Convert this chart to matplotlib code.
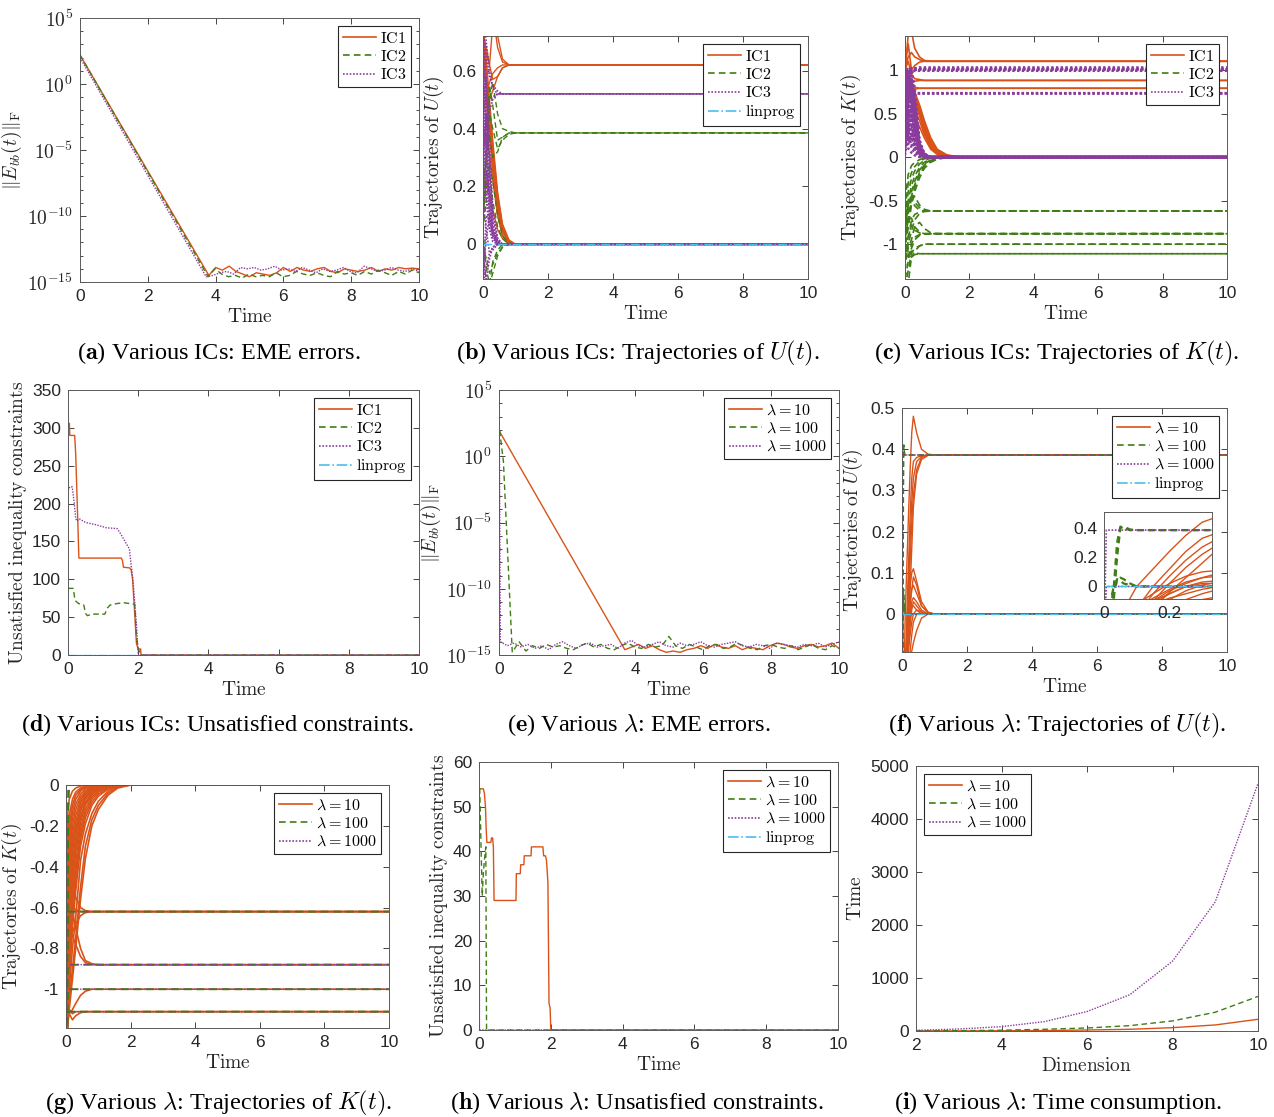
import numpy as np
import matplotlib
matplotlib.use("Agg")
import matplotlib.pyplot as plt
from matplotlib.lines import Line2D
from matplotlib.ticker import FixedLocator, FuncFormatter, NullFormatter

plt.rcParams["font.family"] = ["Liberation Sans", "DejaVu Sans"]
plt.rcParams["mathtext.fontset"] = "cm"
plt.rcParams["axes.unicode_minus"] = False

# =========================
# data
# =========================

# (a) EME error, log10 values: start value then noise floor
A_START_T = [0.0]
A_IC1_START = [2.2]
A_IC2_START = [2.2]
A_IC3_START = [2.0]
A_FLOOR_T0 = [3.8, 3.78, 3.72]
A_IC1_FLOOR = [-14.5, -13.9, -14.1, -13.8, -14.2, -14.4, -14.6, -14.3, -14.4, -14.5, -14.3,
               -13.9, -14.2, -13.9, -14.1, -14.2, -14.0, -13.9, -14.2, -14.3, -14.0, -14.1,
               -14.2, -14.1, -13.9, -14.2, -14.0, -14.1, -13.9, -14.0, -13.95, -14.0]
A_IC2_FLOOR = [-14.6, -14.0, -14.4, -14.6, -14.5, -14.7, -14.4, -14.6, -14.5, -14.6, -14.3,
               -14.6, -14.5, -14.2, -14.4, -14.5, -14.3, -14.5, -14.6, -14.2, -14.4, -14.3,
               -14.5, -14.2, -14.4, -14.1, -14.3, -14.5, -14.2, -14.4, -14.1, -14.3]
A_IC3_FLOOR = [-14.6, -14.5, -14.3, -14.2, -14.4, -13.9, -14.0, -13.9, -14.1, -14.0, -13.8,
               -14.1, -14.0, -14.2, -13.9, -14.1, -14.3, -14.0, -14.2, -14.1, -13.9, -14.2,
               -14.3, -13.8, -14.0, -14.2, -14.1, -13.9, -14.1, -14.2, -14.0, -14.2]

# (b) trajectories of U(t), various ICs (each row holds its last value to t=10)
B_T = [0, 0.1, 0.2, 0.3, 0.45, 0.6, 0.8, 1.0]
B_IC1 = [
    [0.70, 0.80, 0.85, 0.80, 0.68, 0.63, 0.62],
    [0.75, 0.66, 0.62, 0.76, 0.72, 0.64, 0.62],
    [0.45, 0.52, 0.56, 0.59, 0.61, 0.62],
    [0.72, 0.68, 0.62, 0.57, 0.58, 0.61, 0.62],
    [0.62, 0.54, 0.50, 0.53, 0.58, 0.61, 0.62],
    [0.72, 0.60, 0.45, 0.32, 0.16, 0.06, 0.01, 0.0],
    [0.68, 0.55, 0.40, 0.28, 0.13, 0.05, 0.01, 0.0],
    [0.65, 0.58, 0.46, 0.30, 0.15, 0.05, 0.01, 0.0],
    [0.55, 0.50, 0.38, 0.25, 0.10, 0.03, 0.005, 0.0],
    [0.74, 0.64, 0.50, 0.36, 0.18, 0.07, 0.015, 0.0],
    [0.40, 0.36, 0.31, 0.22, 0.10, 0.03, 0.0],
    [0.20, 0.22, 0.18, 0.12, 0.05, 0.02, 0.0],
    [0.70, 0.59, 0.43, 0.27, 0.12, 0.04, 0.01, 0.0],
    [0.60, 0.56, 0.48, 0.34, 0.17, 0.06, 0.01, 0.0],
]
B_IC2 = [
    [0.10, 0.30, 0.50, 0.56, 0.45, 0.40, 0.39, 0.385],
    [0.05, 0.25, 0.45, 0.40, 0.33, 0.36, 0.38, 0.385],
    [0.15, 0.35, 0.55, 0.48, 0.36, 0.37, 0.385],
    [0.20, 0.30, 0.38, 0.30, 0.32, 0.37, 0.385],
    [0.05, -0.08, -0.14, -0.10, -0.04, -0.01, 0.0],
    [0.00, -0.05, -0.10, -0.07, -0.03, -0.01, 0.0],
    [0.10, 0.20, 0.28, 0.22, 0.10, 0.03, 0.005, 0.0],
    [0.05, 0.15, 0.25, 0.15, 0.06, 0.02, 0.0],
    [0.00, -0.14, -0.14, -0.06, -0.02, 0.0],
]
B_IC3 = [
    [0.72, 0.65, 0.58, 0.55, 0.53, 0.52],
    [0.30, 0.45, 0.50, 0.51, 0.52],
    [0.60, 0.40, 0.46, 0.50, 0.52],
    [0.80, 0.70, 0.60, 0.54, 0.52],
    [0.72, 0.40, 0.15, 0.05, 0.01, 0.0],
    [0.50, 0.30, 0.10, 0.03, 0.0],
    [-0.14, -0.08, -0.03, -0.01, 0.0],
    [0.30, 0.15, 0.05, 0.01, 0.0],
    [0.60, 0.35, 0.12, 0.04, 0.01, 0.0],
    [-0.05, -0.12, -0.05, -0.01, 0.0],
    [0.15, 0.05, -0.03, -0.02, 0.0],
    [0.45, 0.20, 0.06, 0.02, 0.0],
    [0.80, 0.55, 0.25, 0.08, 0.01, 0.0],
    [0.20, 0.45, 0.30, 0.10, 0.02, 0.0],
    [-0.14, 0.10, 0.08, 0.03, 0.0],
    [0.66, 0.50, 0.22, 0.06, 0.01, 0.0],
    [0.10, 0.25, 0.18, 0.05, 0.0],
    [0.40, 0.58, 0.35, 0.12, 0.02, 0.0],
    [-0.10, 0.02, 0.10, 0.04, 0.0],
]
B_LINPROG = [0.0]

# (c) trajectories of K(t), various ICs
C_T = [0, 0.1, 0.2, 0.3, 0.45, 0.6, 0.8, 1.0, 1.3, 1.6]
C_IC1 = [
    [1.00, 0.90, 0.80, 0.70, 0.55, 0.36, 0.17, 0.07, 0.015, 0.0],
    [1.00, 0.80, 0.72, 0.62, 0.48, 0.30, 0.13, 0.05, 0.01, 0.0],
    [0.90, 0.85, 0.78, 0.68, 0.58, 0.40, 0.20, 0.08, 0.02, 0.003],
    [0.80, 0.70, 0.62, 0.55, 0.42, 0.26, 0.11, 0.04, 0.008, 0.0],
    [1.00, 0.95, 0.88, 0.75, 0.60, 0.42, 0.22, 0.09, 0.025, 0.005],
    [0.60, 0.50, 0.48, 0.45, 0.35, 0.22, 0.09, 0.03, 0.005, 0.0],
    [0.95, 0.92, 0.82, 0.72, 0.52, 0.33, 0.15, 0.06, 0.012, 0.002],
    [0.85, 0.75, 0.70, 0.66, 0.50, 0.28, 0.12, 0.045, 0.01, 0.0],
    [1.00, 1.40, 1.45, 1.25, 1.15, 1.11, 1.10],
    [1.00, 1.15, 1.20, 1.15, 1.12, 1.10],
    [1.05, 1.30, 1.00, 1.05, 1.09, 1.10],
    [1.00, 1.10, 0.95, 0.90, 0.89, 0.88],
    [0.80, 0.82, 0.85, 0.87, 0.88],
    [1.00, 0.90, 0.75, 0.80, 0.79],
    [0.70, 0.72, 0.76, 0.78, 0.79],
]
C_IC2 = [
    [-0.90, -0.60, -0.40, -0.28, -0.15, -0.08, -0.03, -0.01, 0.0],
    [-0.80, -0.50, -0.33, -0.22, -0.12, -0.06, -0.02, -0.005, 0.0],
    [-0.70, -0.40, -0.25, -0.16, -0.08, -0.04, -0.01, 0.0],
    [-0.60, -0.30, -0.18, -0.11, -0.05, -0.02, -0.005, 0.0],
    [-1.00, -0.70, -0.50, -0.35, -0.20, -0.11, -0.05, -0.02, -0.005, 0.0],
    [-0.50, -0.20, -0.10, -0.06, -0.03, -0.01, 0.0],
    [-1.00, -0.80, -0.55, -0.40, -0.24, -0.13, -0.06, -0.025, -0.005, 0.0],
    [-0.85, -0.55, -0.45, -0.32, -0.18, -0.09, -0.04, -0.012, 0.0],
    [-1.00, -0.80, -0.50, -0.45, -0.55, -0.60, -0.62],
    [-1.20, -1.00, -0.85, -0.72, -0.65, -0.625, -0.62],
    [-0.90, -0.65, -0.48, -0.52, -0.58, -0.615, -0.62],
    [-1.30, -0.95, -0.72, -0.66, -0.63, -0.62],
    [-0.75, -0.52, -0.47, -0.56, -0.61, -0.62],
    [-1.10, -1.05, -0.95, -0.80, -0.75, -0.82, -0.87, -0.88],
    [-1.40, -1.20, -1.00, -0.92, -0.89, -0.88],
    [-1.20, -0.90, -0.78, -0.84, -0.87, -0.88],
    [-1.00, -1.15, -1.05, -0.95, -0.90, -0.885, -0.88],
    [-0.95, -0.72, -0.70, -0.80, -0.86, -0.88],
    [-1.50, -1.30, -1.10, -1.05, -1.02, -1.00],
    [-0.90, -1.10, -1.15, -1.08, -1.02, -1.00],
    [-1.50, -1.45, -1.15, -1.12, -1.11],
    [-1.00, -1.12, -1.08, -1.10, -1.11],
]
C_IC3 = [
    [1.00, 0.95, 0.85, 0.60, 0.15, 0.03, 0.0],
    [0.90, 1.00, 0.90, 0.50, 0.12, 0.02, 0.0],
    [0.80, 0.70, 0.75, 0.40, 0.08, 0.01, 0.0],
    [0.70, 0.90, 0.95, 0.70, 0.18, 0.04, 0.0],
    [0.60, 0.50, 0.55, 0.30, 0.05, 0.0],
    [0.50, 0.80, 0.65, 0.45, 0.10, 0.02, 0.0],
    [0.40, 0.30, 0.35, 0.20, 0.04, 0.0],
    [0.30, 0.60, 0.70, 0.55, 0.12, 0.02, 0.0],
    [0.20, 0.15, 0.25, 0.10, 0.02, 0.0],
    [0.10, 0.40, 0.45, 0.25, 0.05, 0.0],
    [0.95, 0.20, 0.15, 0.08, 0.01, 0.0],
    [0.85, 1.00, 0.80, 0.65, 0.16, 0.03, 0.0],
    [0.05, 0.70, 0.50, 0.35, 0.07, 0.01, 0.0],
    [0.65, 0.10, 0.05, 0.02, 0.0],
    [0.75, 0.55, 0.90, 0.50, 0.10, 0.02, 0.0],
    [0.35, 0.85, 0.60, 0.15, 0.03, 0.0],
    [0.98, 0.60, 0.40, 0.35, 0.08, 0.01, 0.0],
    [0.15, 0.90, 1.00, 0.80, 0.20, 0.04, 0.0],
    [0.45, 0.65, 0.85, 0.75, 0.14, 0.03, 0.0],
    [0.88, 0.45, 0.60, 0.42, 0.09, 0.01, 0.0],
    [0.25, 0.35, 0.10, 0.05, 0.01, 0.0],
    [0.55, 0.95, 0.40, 0.18, 0.03, 0.0],
    [0.02, 0.25, 0.65, 0.60, 0.13, 0.02, 0.0],
    [0.92, 0.75, 0.30, 0.12, 0.02, 0.0],
    [0.58, 0.20, 0.80, 0.58, 0.11, 0.02, 0.0],
    [0.12, 0.55, 0.20, 0.38, 0.06, 0.0],
    [0.78, 0.35, 0.52, 0.28, 0.05, 0.0],
    [0.32, 1.00, 0.75, 0.48, 0.10, 0.01, 0.0],
    [1.00, 0.95, 1.00, 1.02, 1.03],
    [0.90, 0.98, 1.01, 1.00],
    [1.00, 1.00, 1.02, 1.01],
    [0.80, 0.92, 0.98, 0.99],
    [0.95, 1.03, 1.02, 1.015],
    [0.70, 0.88, 0.96, 1.00, 1.005],
    [1.00, 0.85, 0.78, 0.74, 0.73],
    [0.60, 0.68, 0.72, 0.73],
    [0.85, 0.70, 0.72, 0.735],
]

# (d) unsatisfied constraints, various ICs
D_IC1_T = [0, 0.04, 0.05, 0.19, 0.22, 0.28, 0.31, 1.52, 1.55, 1.58, 1.76, 1.80, 1.84,
           1.90, 1.95, 2.0, 2.07, 2.08, 10]
D_IC1 = [306, 306, 290, 290, 265, 175, 128, 128, 125, 116, 115, 112, 100, 55, 15, 8, 8, 0, 0]
D_IC2_T = [0, 0.15, 0.2, 0.3, 0.45, 0.5, 0.55, 0.7, 1.05, 1.12, 1.2, 1.4, 1.6, 1.9,
           1.95, 2.0, 2.05, 2.1, 10]
D_IC2 = [88, 88, 72, 68, 66, 55, 52, 54, 54, 62, 66, 68, 69, 67, 25, 8, 3, 0, 0]
D_IC3_T = [0, 0.05, 0.12, 0.18, 0.22, 0.26, 0.32, 0.5, 0.8, 1.1, 1.4, 1.5, 1.6, 1.75,
           1.8, 1.85, 1.95, 2.0, 10]
D_IC3 = [217, 222, 222, 200, 180, 177, 180, 175, 172, 168, 167, 160, 152, 140, 118, 100, 40, 0, 0]
D_LINPROG = [0, 0]

# (e) EME error, various lambda (log10 values)
E_L10_START_T = [0.0]
E_L10_START = [1.94]
E_L10_FLOOR_T0 = 3.7
E_L10_FLOOR = [-14.6, -14.4, -14.2, -14.5, -14.3, -14.6, -14.8, -14.7, -14.8, -14.6, -14.5,
               -14.3, -14.5, -14.2, -14.4, -14.5, -14.3, -14.6, -14.4, -14.5, -14.6, -14.3,
               -14.1, -14.2, -14.4, -14.5, -14.3, -14.2, -14.4, -14.3, -14.1, -14.5]
E_L100_START_T = [0.02, 0.13]
E_L100_START = [1.94, -0.4]
E_L100_FLOOR_T0 = 0.39
E_L100_FLOOR = [-14.8, -14.0, -14.7, -14.3, -14.5, -14.2, -14.4, -14.3, -14.5, -14.6, -14.3,
                -14.1, -14.4, -14.2, -14.5, -14.6, -14.3, -14.1, -14.4, -14.5, -14.2, -14.4,
                -14.3, -13.6, -14.3, -14.5, -14.2, -14.4, -14.6, -14.3, -14.2, -14.5, -14.4,
                -14.1, -14.3, -14.5, -14.6, -14.3, -14.2, -14.4, -14.5, -14.3, -14.6, -14.4,
                -14.2, -14.5, -14.6, -14.3, -14.5]
E_L1000_START_T = [0.01]
E_L1000_START = [1.94]
E_L1000_FLOOR_T0 = 0.04
E_L1000_FLOOR = [-14.0, -14.3, -14.1, -14.4, -14.2, -14.5, -14.3, -14.6, -14.2, -14.0, -14.3,
                 -14.5, -14.2, -14.1, -14.4, -14.3, -14.2, -14.5, -14.1, -13.9, -14.3, -14.4,
                 -14.2, -14.0, -14.3, -14.4, -14.1, -14.3, -14.2, -14.0, -14.3, -14.4, -14.2,
                 -14.1, -14.0, -14.3, -14.4, -14.2, -14.3, -14.5, -14.1, -14.2, -14.3, -14.4,
                 -14.2, -14.3, -14.1, -14.4, -14.2, -14.0]

# (f) trajectories of U(t), various lambda
F_T_L10 = [0, 0.05, 0.1, 0.15, 0.2, 0.25, 0.3, 0.35, 0.45, 0.6, 0.8, 1.0]
F_L10 = [
    [-0.40, -0.20, 0.00, 0.12, 0.24, 0.35, 0.44, 0.48, 0.44, 0.40, 0.388, 0.386],
    [-0.40, -0.30, -0.15, 0.00, 0.12, 0.24, 0.33, 0.37, 0.38, 0.384, 0.386],
    [-0.40, -0.30, -0.20, -0.05, 0.07, 0.18, 0.27, 0.33, 0.37, 0.382, 0.386],
    [-0.50, -0.40, -0.25, -0.10, 0.02, 0.13, 0.22, 0.29, 0.35, 0.38, 0.386],
    [-0.50, -0.40, -0.30, -0.15, -0.04, 0.06, 0.16, 0.26, 0.34, 0.375, 0.385, 0.386],
    [-0.30, -0.20, -0.12, -0.05, 0.02, 0.07, 0.10, 0.11, 0.08, 0.03, 0.005, 0.0],
    [-0.30, -0.25, -0.15, -0.08, -0.02, 0.03, 0.06, 0.07, 0.05, 0.02, 0.003, 0.0],
    [-0.30, -0.20, -0.15, -0.10, -0.05, 0.00, 0.03, 0.04, 0.03, 0.01, 0.0],
    [-0.40, -0.30, -0.20, -0.10, -0.03, 0.02, 0.06, 0.09, 0.07, 0.02, 0.004, 0.0],
    [-0.30, -0.25, -0.20, -0.15, -0.12, -0.10, -0.09, -0.07, -0.04, -0.01, 0.0],
    [-0.20, -0.18, -0.15, -0.12, -0.08, -0.05, -0.02, 0.00, 0.01, 0.005, 0.0],
    [-0.35, -0.30, -0.25, -0.20, -0.14, -0.09, -0.05, -0.02, 0.00, 0.0],
    [-0.40, -0.32, -0.22, -0.12, -0.05, 0.00, 0.02, 0.02, 0.01, 0.0],
    [-0.45, -0.35, -0.25, -0.16, -0.09, -0.03, 0.01, 0.03, 0.02, 0.005, 0.0],
]
F_T_L100 = [0, 0.02, 0.03, 0.04, 0.05, 0.06, 0.08, 0.1]
F_L100 = [
    [-0.30, -0.20, -0.09, 0.20, 0.40, 0.41, 0.39, 0.386],
    [-0.30, -0.15, 0.00, 0.30, 0.41, 0.40, 0.385, 0.386],
    [-0.30, -0.20, -0.05, 0.04, 0.06, 0.05, 0.02, 0.0],
    [-0.20, -0.10, 0.00, 0.05, 0.04, 0.02, 0.01, 0.0],
]
F_T_L1000 = [0, 0.007]
F_L1000 = [[-0.40, 0.386], [-0.40, 0.0]]
F_LINPROG = [0.0]

# (g) trajectories of K(t), various lambda
G_T_L10 = [0, 0.05, 0.1, 0.2, 0.3, 0.45, 0.6, 0.8, 1.0, 1.3, 1.6, 2.0]
G_L10 = [
    [-1.30, -1.19, -1.00, -0.80, -0.65, -0.37, -0.24, -0.14, -0.08, -0.03, -0.005, 0.0],
    [-1.30, -1.19, -0.95, -0.70, -0.52, -0.30, -0.19, -0.10, -0.055, -0.02, -0.003, 0.0],
    [-1.30, -1.10, -0.85, -0.60, -0.42, -0.24, -0.14, -0.07, -0.035, -0.01, 0.0],
    [-1.30, -1.00, -0.72, -0.48, -0.33, -0.18, -0.10, -0.05, -0.02, -0.005, 0.0],
    [-1.30, -0.90, -0.60, -0.38, -0.25, -0.13, -0.07, -0.03, -0.012, 0.0],
    [-1.30, -0.75, -0.48, -0.28, -0.18, -0.09, -0.045, -0.018, -0.006, 0.0],
    [-1.30, -0.60, -0.36, -0.20, -0.12, -0.06, -0.03, -0.01, 0.0],
    [-1.30, -0.45, -0.25, -0.13, -0.07, -0.03, -0.012, -0.004, 0.0],
    [-1.30, -0.30, -0.15, -0.07, -0.035, -0.015, -0.005, 0.0],
    [-1.30, -0.15, -0.07, -0.03, -0.015, -0.005, 0.0],
    [-1.30, -1.19, -1.05, -0.90, -0.75, -0.50, -0.30, -0.17, -0.10, -0.04, -0.01, 0.0],
    [-1.30, -0.55, -0.42, -0.30, -0.22, -0.12, -0.06, -0.025, -0.01, 0.0],
    [-1.30, -0.80, -0.55, -0.42, -0.30, -0.17, -0.09, -0.04, -0.015, -0.003, 0.0],
    [-1.30, -1.15, -0.90, -0.65, -0.47, -0.27, -0.16, -0.085, -0.045, -0.015, -0.002, 0.0],
    [-1.30, -1.05, -0.78, -0.54, -0.38, -0.21, -0.12, -0.06, -0.028, -0.008, 0.0],
    [-1.30, -0.95, -0.66, -0.43, -0.29, -0.155, -0.085, -0.04, -0.018, -0.004, 0.0],
    [-1.30, -0.82, -0.54, -0.33, -0.21, -0.11, -0.055, -0.025, -0.01, 0.0],
    [-1.30, -0.68, -0.42, -0.24, -0.15, -0.075, -0.037, -0.015, -0.005, 0.0],
    [-1.30, -0.52, -0.30, -0.16, -0.095, -0.045, -0.02, -0.007, 0.0],
    [-1.30, -0.38, -0.20, -0.10, -0.05, -0.022, -0.008, 0.0],
    [-1.30, -1.19, -1.10, -0.95, -0.80, -0.56, -0.36, -0.20, -0.12, -0.05, -0.015, 0.0],
    [-1.30, -0.30, -0.35, -0.45, -0.55, -0.60, -0.615, -0.62],
    [-1.30, -0.90, -0.78, -0.72, -0.68, -0.64, -0.625, -0.62],
    [-1.30, -0.60, -0.58, -0.60, -0.61, -0.62],
    [-1.30, -0.50, -0.55, -0.62, -0.70, -0.80, -0.86, -0.875, -0.88],
    [-1.30, -0.65, -0.72, -0.74, -0.78, -0.84, -0.87, -0.88],
    [-1.30, -1.15, -1.12, -1.10, -1.07, -1.03, -1.01, -1.00],
    [-1.30, -1.10, -1.12, -1.15, -1.13, -1.115, -1.11],
    [-1.30, -1.05, -1.10, -1.12, -1.11],
]
G_T_L100 = [0, 0.03, 0.05, 0.07, 0.1]
G_L100 = [
    [-1.30, -1.20, -0.60, -0.10, 0.0],
    [-1.30, -1.00, -0.30, 0.0],
    [-1.30, -1.10, -0.62],
    [-1.30, -1.15, -0.90, -0.88],
    [-1.30, -1.20, -1.05, -1.00],
    [-1.30, -1.25, -1.12, -1.11],
]
G_T_L1000 = [0, 0.01]
G_L1000 = [[-1.3, 0.0], [-1.3, -0.62], [-1.3, -0.88], [-1.3, -1.0], [-1.3, -1.11]]

# (h) unsatisfied constraints, various lambda
H_L10_T = [0, 0.12, 0.15, 0.18, 0.2, 0.22, 0.33, 0.35, 0.38, 0.40, 0.42, 1.03, 1.04, 1.15,
           1.16, 1.25, 1.26, 1.45, 1.46, 1.78, 1.80, 1.85, 1.88, 1.92, 1.95, 1.98, 2.0, 10]
H_L10 = [54, 54, 53, 50, 45, 42, 42, 43, 43, 41, 29, 29, 35, 35, 37, 37, 39, 39, 41, 41,
         39, 39, 38, 33, 6, 5, 0, 0]
H_L100_T = [0, 0.02, 0.06, 0.09, 0.12, 0.15, 0.19, 0.2, 0.21, 10]
H_L100 = [54, 54, 40, 30, 35, 38, 41, 20, 0, 0]
H_L1000_T = [0, 0.01, 0.012, 10]
H_L1000 = [54, 54, 0, 0]
H_LINPROG = [0, 0]

# (i) time consumption
I_DIM = [2, 3, 4, 5, 6, 7, 8, 9, 10]
I_L10 = [1, 2, 4, 8, 19, 32, 63, 114, 221]
I_L100 = [2, 6, 15, 32, 57, 101, 190, 354, 652]
I_L1000 = [13, 38, 82, 177, 367, 684, 1316, 2437, 4670]

# =========================
# styles
# =========================
W, H = 1274, 1117
ORANGE = "#D95319"
GREEN = "#3E7E14"
PURPLE = "#8A3C9C"
CYAN = "#4DBEEE"
S1 = dict(color=ORANGE, linestyle="-")
S2 = dict(color=GREEN, linestyle=(0, (4, 2.5)))
S3 = dict(color=PURPLE, linestyle=(0, (1, 1)))
SL = dict(color=CYAN, linestyle="-.")

IC_LABELS = [r"$\mathrm{IC1}$", r"$\mathrm{IC2}$", r"$\mathrm{IC3}$", r"$\mathrm{linprog}$"]
LAM_LABELS = [r"$\lambda = 10$", r"$\lambda = 100$", r"$\lambda = 1000$", r"$\mathrm{linprog}$"]

LABEL_KW = dict(fontsize=14, color="#262626")

fig = plt.figure(figsize=(W / 100, H / 100), dpi=100)


def make_axes(l, t, r, b):
    ax = fig.add_axes([l / W, 1 - b / H, (r - l) / W, (b - t) / H])
    ax.tick_params(direction="in", top=True, right=True, length=4, width=0.6,
                   labelsize=12.5, colors="#262626", pad=5)
    ax.tick_params(which="minor", direction="in", top=False, right=True, length=2.5, width=0.5)
    for s in ax.spines.values():
        s.set_color("#5a5a5a")
        s.set_linewidth(0.7)
    return ax


def draw_bundle(ax, times, rows, style, lw=1.0):
    for row in rows:
        ax.plot(list(times[:len(row)]) + [10], list(row) + [row[-1]], lw=lw, **style)


def add_legend(ax, labels, styles, loc="upper right"):
    handles = [Line2D([], [], lw=1.2, **s) for s in styles]
    leg = ax.legend(handles, labels, loc=loc, fontsize=11.5, handlelength=2.1,
                    handletextpad=0.2, borderpad=0.3, labelspacing=0.2,
                    borderaxespad=0.5, fancybox=False, framealpha=1, edgecolor="#262626")
    leg.get_frame().set_linewidth(0.8)


def time_axis(ax):
    ax.set_xlim(0, 10)
    ax.set_xticks([0, 2, 4, 6, 8, 10])
    ax.set_xlabel(r"$\mathrm{Time}$", labelpad=3, **LABEL_KW)


def log_axis(ax):
    ax.set_yscale("log")
    ax.set_ylim(1e-15, 1e5)
    ax.yaxis.set_major_locator(FixedLocator([1e-15, 1e-10, 1e-5, 1e0, 1e5]))
    ax.yaxis.set_minor_locator(FixedLocator([10.0 ** k for k in range(-15, 6)]))
    ax.yaxis.set_minor_formatter(NullFormatter())
    ax.yaxis.set_major_formatter(FuncFormatter(
        lambda v, p: r"$\mathsf{10^{%d}}$" % round(np.log10(v))))
    ax.tick_params(axis="y", labelsize=14)
    ax.set_ylabel(r"$\|E_{bb}(t)\|_{\mathrm{F}}$", labelpad=2, **LABEL_KW)


def log_series(ax, start_t, start_v, floor_t0, floor_v, style):
    floor_t = np.linspace(floor_t0, 10, len(floor_v))
    t = list(start_t) + list(floor_t)
    v = np.array(list(start_v) + list(floor_v))
    ax.plot(t, 10.0 ** v, lw=1.0, **style)


def caption(x, y, text):
    fig.text(x / W, 1 - y / H, text, ha="center", va="center", fontsize=17.5,
             family=["Liberation Serif", "DejaVu Serif"])


# =========================
# (a)
# =========================
ax = make_axes(80, 18, 419, 282)
log_series(ax, A_START_T, A_IC1_START, A_FLOOR_T0[0], A_IC1_FLOOR, S1)
log_series(ax, A_START_T, A_IC2_START, A_FLOOR_T0[1], A_IC2_FLOOR, S2)
log_series(ax, A_START_T, A_IC3_START, A_FLOOR_T0[2], A_IC3_FLOOR, S3)
log_axis(ax)
time_axis(ax)
add_legend(ax, IC_LABELS[:3], [S1, S2, S3])
caption(219, 353, r"($\mathbf{a}$) Various ICs: EME errors.")

# =========================
# (b)
# =========================
ax = make_axes(483, 36, 808, 279)
draw_bundle(ax, B_T, B_IC1, S1)
draw_bundle(ax, B_T, B_IC2, S2)
draw_bundle(ax, B_T, B_IC3, S3, lw=1.2)
draw_bundle(ax, [0], [B_LINPROG], SL)
ax.set_ylim(-0.12, 0.72)
ax.set_yticks([0, 0.2, 0.4, 0.6])
ax.set_yticklabels(["0", "0.2", "0.4", "0.6"])
ax.set_ylabel(r"$\mathrm{Trajectories\ of\ }U(t)$", **LABEL_KW)
time_axis(ax)
add_legend(ax, IC_LABELS, [S1, S2, S3, SL])
caption(638, 353, r"($\mathbf{b}$) Various ICs: Trajectories of $U(t)$.")

# =========================
# (c)
# =========================
ax = make_axes(905, 36, 1227, 279)
draw_bundle(ax, C_T, C_IC1, S1, lw=1.2)
draw_bundle(ax, C_T, C_IC2, S2, lw=1.2)
draw_bundle(ax, C_T, C_IC3, S3, lw=1.7)
ax.set_ylim(-1.4, 1.39)
ax.set_yticks([-1, -0.5, 0, 0.5, 1])
ax.set_yticklabels(["-1", "-0.5", "0", "0.5", "1"])
ax.set_ylabel(r"$\mathrm{Trajectories\ of\ }K(t)$", **LABEL_KW)
time_axis(ax)
add_legend(ax, IC_LABELS[:3], [S1, S2, S3])
caption(1057, 353, r"($\mathbf{c}$) Various ICs: Trajectories of $K(t)$.")

# =========================
# (d)
# =========================
ax = make_axes(68, 390, 419, 655)
ax.plot(D_IC1_T, D_IC1, lw=1.0, **S1)
ax.plot(D_IC2_T, D_IC2, lw=1.0, **S2)
ax.plot(D_IC3_T, D_IC3, lw=1.0, **S3)
ax.plot([0, 10], D_LINPROG, lw=1.0, **SL)
ax.set_ylim(0, 350)
ax.set_yticks(range(0, 351, 50))
ax.set_ylabel(r"$\mathrm{Unsatisfied\ inequality\ constraints}$", labelpad=2, **LABEL_KW)
time_axis(ax)
add_legend(ax, IC_LABELS, [S1, S2, S3, SL])
caption(218, 725, r"($\mathbf{d}$) Various ICs: Unsatisfied constraints.")

# =========================
# (e)
# =========================
ax = make_axes(499, 390, 839, 655)
log_series(ax, E_L10_START_T, E_L10_START, E_L10_FLOOR_T0, E_L10_FLOOR, S1)
log_series(ax, E_L100_START_T, E_L100_START, E_L100_FLOOR_T0, E_L100_FLOOR, S2)
log_series(ax, E_L1000_START_T, E_L1000_START, E_L1000_FLOOR_T0, E_L1000_FLOOR, S3)
log_axis(ax)
time_axis(ax)
add_legend(ax, LAM_LABELS[:3], [S1, S2, S3])
caption(639, 725, r"($\mathbf{e}$) Various $\lambda$: EME errors.")

# =========================
# (f) with inset
# =========================
ax = make_axes(902, 408, 1227, 652)
draw_bundle(ax, F_T_L10, F_L10, S1)
draw_bundle(ax, F_T_L100, F_L100, S2)
draw_bundle(ax, F_T_L1000, F_L1000, S3)
draw_bundle(ax, [0], [F_LINPROG], SL)
ax.set_ylim(-0.092, 0.5)
ax.set_yticks([0, 0.1, 0.2, 0.3, 0.4, 0.5])
ax.set_yticklabels(["0", "0.1", "0.2", "0.3", "0.4", "0.5"])
ax.set_ylabel(r"$\mathrm{Trajectories\ of\ }U(t)$", **LABEL_KW)
time_axis(ax)
add_legend(ax, LAM_LABELS, [S1, S2, S3, SL])
caption(1057, 725, r"($\mathbf{f}$) Various $\lambda$: Trajectories of $U(t)$.")

ins = make_axes(1104, 512, 1212, 599)
draw_bundle(ins, F_T_L10, F_L10, S1)
draw_bundle(ins, F_T_L100, F_L100, dict(color=GREEN, linestyle=(0, (3, 2))), lw=1.6)
draw_bundle(ins, F_T_L1000, F_L1000, S3, lw=1.2)
draw_bundle(ins, [0], [F_LINPROG], SL)
ins.set_xlim(0, 0.33)
ins.set_ylim(-0.086, 0.51)
ins.set_xticks([0, 0.2])
ins.set_xticklabels(["0", "0.2"])
ins.set_yticks([0, 0.2, 0.4])
ins.set_yticklabels(["0", "0.2", "0.4"])
ins.tick_params(length=0)

# =========================
# (g)
# =========================
ax = make_axes(66, 785, 389, 1028)
draw_bundle(ax, G_T_L10, G_L10, S1, lw=1.2)
draw_bundle(ax, G_T_L100, G_L100, S2, lw=1.4)
draw_bundle(ax, G_T_L1000, G_L1000, S3)
ax.set_ylim(-1.19, 0)
ax.set_yticks([-1, -0.8, -0.6, -0.4, -0.2, 0])
ax.set_yticklabels(["-1", "-0.8", "-0.6", "-0.4", "-0.2", "0"])
ax.set_ylabel(r"$\mathrm{Trajectories\ of\ }K(t)$", **LABEL_KW)
time_axis(ax)
add_legend(ax, LAM_LABELS[:3], [S1, S2, S3])
caption(219, 1103, r"($\mathbf{g}$) Various $\lambda$: Trajectories of $K(t)$.")

# =========================
# (h)
# =========================
ax = make_axes(479, 762, 838, 1030)
ax.plot(H_L10_T, H_L10, lw=1.0, **S1)
ax.plot(H_L100_T, H_L100, lw=1.0, **S2)
ax.plot(H_L1000_T, H_L1000, lw=1.0, **S3)
ax.plot([0, 10], H_LINPROG, lw=1.0, **SL)
ax.set_ylim(0, 60)
ax.set_yticks(range(0, 61, 10))
ax.set_ylabel(r"$\mathrm{Unsatisfied\ inequality\ constraints}$", labelpad=2, **LABEL_KW)
time_axis(ax)
add_legend(ax, LAM_LABELS, [S1, S2, S3, SL])
caption(637, 1103, r"($\mathbf{h}$) Various $\lambda$: Unsatisfied constraints.")

# =========================
# (i)
# =========================
ax = make_axes(916, 766, 1258, 1031)
ax.plot(I_DIM, I_L10, lw=1.0, **S1)
ax.plot(I_DIM, I_L100, lw=1.0, **S2)
ax.plot(I_DIM, I_L1000, lw=1.0, **S3)
ax.set_xlim(2, 10)
ax.set_ylim(0, 5000)
ax.set_xticks([2, 4, 6, 8, 10])
ax.set_yticks(range(0, 5001, 1000))
ax.set_xlabel(r"$\mathrm{Dimension}$", labelpad=3, **LABEL_KW)
ax.set_ylabel(r"$\mathrm{Time}$", **LABEL_KW)
add_legend(ax, LAM_LABELS[:3], [S1, S2, S3], loc="upper left")
caption(1058, 1103, r"($\mathbf{i}$) Various $\lambda$: Time consumption.")

fig.savefig("out.png", dpi=100)
